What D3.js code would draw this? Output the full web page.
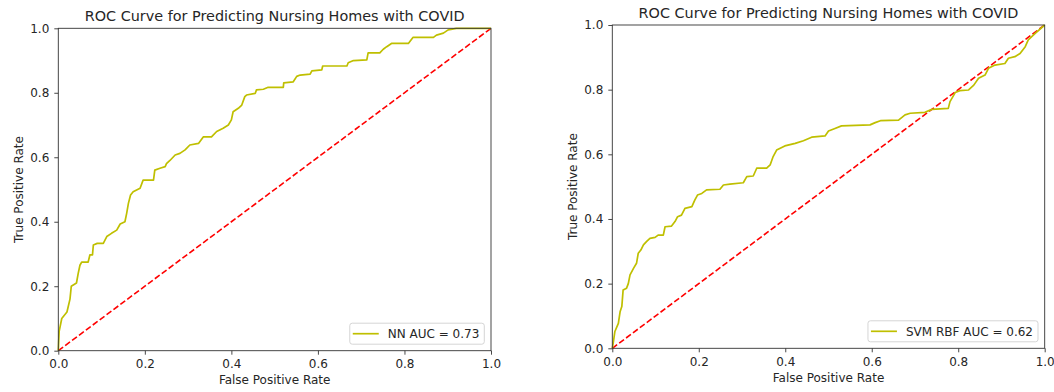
<!DOCTYPE html>
<html>
<head>
<meta charset="utf-8">
<script src="https://cdn.jsdelivr.net/npm/d3@7"></script>
<style>
  body { margin: 0; background: #fff; }
  svg { display: block; font-family: "DejaVu Sans", sans-serif; }
</style>
</head>
<body>
<svg id="canvas" width="1054" height="392"></svg>
<script>
// Data
const titleText = "ROC Curve for Predicting Nursing Homes with COVID";
const tickValues = [0, 0.2, 0.4, 0.6, 0.8, 1.0];

const nnFpr = [0, 0.002, 0.008, 0.02, 0.027, 0.03, 0.042, 0.046, 0.05, 0.054, 0.069, 0.073, 0.079, 0.081, 0.09, 0.104, 0.112, 0.123, 0.135, 0.143, 0.154, 0.158, 0.162, 0.167, 0.173, 0.189, 0.196, 0.22, 0.223, 0.235, 0.247, 0.25, 0.258, 0.27, 0.281, 0.293, 0.304, 0.324, 0.335, 0.354, 0.366, 0.381, 0.393, 0.4, 0.404, 0.416, 0.424, 0.431, 0.435, 0.455, 0.458, 0.474, 0.485, 0.52, 0.521, 0.543, 0.551, 0.559, 0.582, 0.586, 0.609, 0.611, 0.667, 0.67, 0.682, 0.713, 0.716, 0.743, 0.751, 0.759, 0.77, 0.809, 0.82, 0.867, 0.874, 0.89, 0.901, 0.92, 1.0];
const nnTpr = [0, 0.06, 0.1, 0.12, 0.16, 0.2, 0.21, 0.24, 0.265, 0.275, 0.275, 0.297, 0.297, 0.328, 0.333, 0.333, 0.354, 0.364, 0.374, 0.393, 0.4, 0.426, 0.457, 0.483, 0.493, 0.504, 0.529, 0.529, 0.56, 0.566, 0.571, 0.58, 0.59, 0.607, 0.612, 0.623, 0.638, 0.643, 0.663, 0.663, 0.68, 0.69, 0.7, 0.716, 0.741, 0.752, 0.762, 0.788, 0.793, 0.798, 0.809, 0.811, 0.817, 0.817, 0.831, 0.834, 0.851, 0.855, 0.858, 0.868, 0.871, 0.883, 0.883, 0.893, 0.9, 0.902, 0.924, 0.924, 0.935, 0.943, 0.953, 0.953, 0.972, 0.972, 0.979, 0.985, 0.995, 1.0, 1.0];

const svmFpr = [0, 0.002, 0.006, 0.014, 0.018, 0.022, 0.025, 0.033, 0.037, 0.041, 0.049, 0.056, 0.06, 0.066, 0.072, 0.079, 0.087, 0.099, 0.106, 0.118, 0.122, 0.137, 0.145, 0.151, 0.16, 0.168, 0.184, 0.191, 0.197, 0.207, 0.218, 0.249, 0.257, 0.272, 0.303, 0.311, 0.326, 0.334, 0.357, 0.365, 0.372, 0.38, 0.399, 0.423, 0.442, 0.461, 0.492, 0.5, 0.515, 0.53, 0.596, 0.608, 0.62, 0.662, 0.677, 0.689, 0.723, 0.739, 0.777, 0.781, 0.793, 0.804, 0.824, 0.836, 0.847, 0.862, 0.87, 0.885, 0.908, 0.916, 0.931, 0.943, 0.955, 0.962, 0.978, 1.0];
const svmTpr = [0, 0.015, 0.052, 0.077, 0.113, 0.129, 0.18, 0.186, 0.2, 0.227, 0.247, 0.263, 0.294, 0.304, 0.32, 0.33, 0.34, 0.343, 0.35, 0.35, 0.376, 0.378, 0.392, 0.407, 0.412, 0.433, 0.438, 0.459, 0.474, 0.479, 0.49, 0.492, 0.505, 0.508, 0.512, 0.531, 0.533, 0.557, 0.557, 0.567, 0.593, 0.613, 0.626, 0.634, 0.642, 0.653, 0.657, 0.672, 0.68, 0.688, 0.691, 0.698, 0.704, 0.706, 0.722, 0.727, 0.73, 0.739, 0.742, 0.763, 0.791, 0.797, 0.799, 0.814, 0.835, 0.845, 0.866, 0.876, 0.881, 0.897, 0.902, 0.912, 0.933, 0.954, 0.974, 1.0];

const svg = d3.select("#canvas");

drawPanel({ x0: 58.3, x1: 491, top: 28.3, bottom: 350.7 }, nnFpr, nnTpr, "NN AUC = 0.73");
drawPanel({ x0: 612.3, x1: 1044.7, top: 25, bottom: 348.3 }, svmFpr, svmTpr, "SVM RBF AUC = 0.62");

function drawPanel(box, fpr, tpr, label) {
    const x = d3.scaleLinear().domain([0, 1]).range([box.x0, box.x1]);
    const y = d3.scaleLinear().domain([0, 1]).range([box.bottom, box.top]);
    const g = svg.append("g");

    // chance line
    g.append("path")
        .attr("d", d3.line().x(d => x(d)).y(d => y(d))([0, 1]))
        .attr("fill", "none")
        .attr("stroke", "#ff0000")
        .attr("stroke-width", 1.6)
        .attr("stroke-dasharray", "6,2.6");

    // ROC curve
    const pts = fpr.map((f, i) => [f, tpr[i]]);
    g.append("path")
        .attr("d", d3.line().x(d => x(d[0])).y(d => y(d[1]))(pts))
        .attr("fill", "none")
        .attr("stroke", "#bfbf00")
        .attr("stroke-width", 1.7)
        .attr("stroke-linejoin", "round");

    // axes
    const fmt = d3.format(".1f");
    const xAxis = g.append("g")
        .attr("transform", `translate(0,${box.bottom})`)
        .call(d3.axisBottom(x).tickValues(tickValues).tickFormat(fmt).tickSize(4).tickPadding(5));
    const yAxis = g.append("g")
        .attr("transform", `translate(${box.x0},0)`)
        .call(d3.axisLeft(y).tickValues(tickValues).tickFormat(fmt).tickSize(4).tickPadding(5));
    [xAxis, yAxis].forEach(a => {
        a.select(".domain").remove();
        a.selectAll("line").attr("stroke", "#333").attr("stroke-width", 0.9);
        a.selectAll("text").attr("fill", "#262626").style("font-size", "12px").style("font-family", "DejaVu Sans");
    });

    g.append("rect")
        .attr("x", box.x0).attr("y", box.top)
        .attr("width", box.x1 - box.x0).attr("height", box.bottom - box.top)
        .attr("fill", "none").attr("stroke", "#333").attr("stroke-width", 0.9);

    // titles
    g.append("text")
        .attr("x", (box.x0 + box.x1) / 2).attr("y", box.top - 7.5)
        .attr("text-anchor", "middle").attr("fill", "#262626")
        .style("font-size", "14.4px").text(titleText);
    g.append("text")
        .attr("x", (box.x0 + box.x1) / 2).attr("y", box.bottom + 33.5)
        .attr("text-anchor", "middle").attr("fill", "#262626")
        .style("font-size", "12px").text("False Positive Rate");
    g.append("text")
        .attr("transform", `translate(${box.x0 - 40},${(box.top + box.bottom) / 2}) rotate(-90)`)
        .attr("text-anchor", "middle").attr("dy", "0.35em").attr("fill", "#262626")
        .style("font-size", "12px").text("True Positive Rate");

    // legend, bottom right
    const leg = g.append("g");
    const frame = leg.append("rect");
    const txt = leg.append("text")
        .attr("fill", "#262626").style("font-size", "12px").text(label);
    const tw = txt.node().getComputedTextLength();
    const w = 3 + 26 + 9 + tw + 5;
    const h = 21;
    const lx = box.x1 - 6.7 - w;
    const ly = box.bottom - 6.5 - h;
    frame.attr("x", lx).attr("y", ly).attr("width", w).attr("height", h)
        .attr("rx", 2.5).attr("fill", "#fff").attr("fill-opacity", 0.8)
        .attr("stroke", "#d0d0d0").attr("stroke-width", 0.9);
    leg.append("line")
        .attr("x1", lx + 3).attr("x2", lx + 29)
        .attr("y1", ly + h / 2).attr("y2", ly + h / 2)
        .attr("stroke", "#bfbf00").attr("stroke-width", 1.7);
    txt.attr("x", lx + 38).attr("y", ly + h / 2).attr("dy", "0.35em");
}
</script>
</body>
</html>
